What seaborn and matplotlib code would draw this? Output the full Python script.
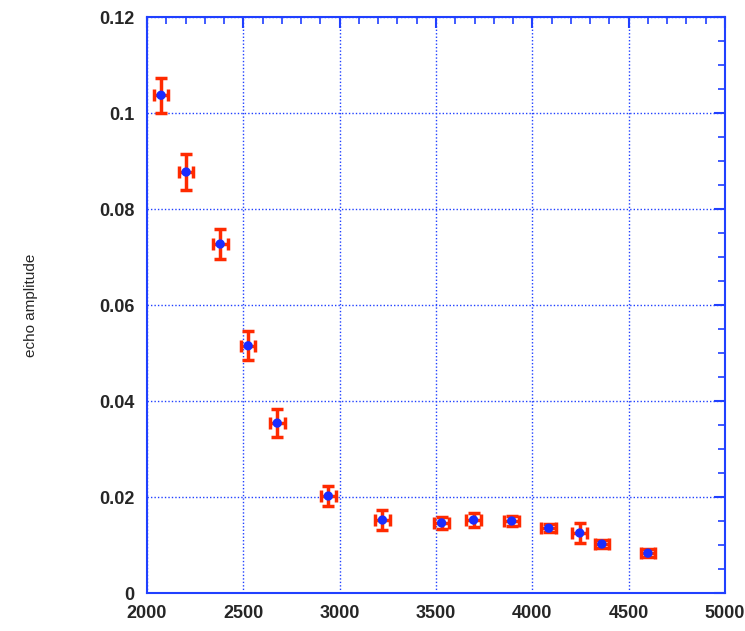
import numpy as np
import pandas as pd
import seaborn as sns
import matplotlib.pyplot as plt
from matplotlib.ticker import MultipleLocator, FuncFormatter

# data
field = [2073, 2203, 2380, 2525, 2676, 2941, 3222, 3529, 3695, 3893, 4085, 4246, 4361, 4600]
amplitude = [0.1037, 0.0877, 0.0727, 0.0515, 0.0354, 0.0202, 0.0152, 0.0146, 0.0152, 0.0150,
             0.0135, 0.0125, 0.0102, 0.0083]
amp_err = [0.0036, 0.0037, 0.0031, 0.0030, 0.0030, 0.0021, 0.0020, 0.0013, 0.0015, 0.0010,
           0.0008, 0.0020, 0.0008, 0.0009]
field_err = [38] * len(field)
ytick_vals = [0, 0.02, 0.04, 0.06, 0.08, 0.1, 0.12]
ytick_labels = ["0", "0.02", "0.04", "0.06", "0.08", "0.1", "0.12"]

df = pd.DataFrame({"field": field, "amplitude": amplitude})

sns.set_style("white")
plt.rcParams['font.family'] = ['Liberation Sans', 'DejaVu Sans']

fig = plt.figure(figsize=(7.45, 6.31), dpi=100)
ax = fig.add_axes([147 / 745, 38 / 631, 578 / 745, 576 / 631])

blue = "#2040ff"

ax.errorbar(field, amplitude, yerr=amp_err, xerr=field_err, fmt="none",
            ecolor="#ff2a00", elinewidth=2.5, capsize=4, capthick=2.5, zorder=3)
sns.scatterplot(data=df, x="field", y="amplitude", color="#1a2cff", s=45,
                edgecolor="none", ax=ax, zorder=4)

ax.set_xlim(2000, 5000)
ax.set_ylim(0, 0.12)
ax.set_xticks([2000, 2500, 3000, 3500, 4000, 4500, 5000])
ax.xaxis.set_minor_locator(MultipleLocator(100))
ax.set_yticks(ytick_vals, ytick_labels)
ax.yaxis.set_minor_locator(MultipleLocator(0.005))

ax.grid(True, which="major", color=blue, linestyle=(0, (1, 1.5)), linewidth=1.0)
for s in ax.spines.values():
    s.set_color(blue)
    s.set_linewidth(1.5)
ax.tick_params(which="both", direction="in", color=blue, top=True, right=True)
ax.tick_params(which="major", length=8, width=1.5, labelsize=13, pad=9)
ax.tick_params(which="minor", length=5, width=1.2)
for lab in ax.get_xticklabels() + ax.get_yticklabels():
    lab.set_fontweight("bold")

ax.set_xlabel("")
ax.set_ylabel("echo amplitude", fontsize=11, labelpad=44)

plt.savefig("out.png", dpi=100)
